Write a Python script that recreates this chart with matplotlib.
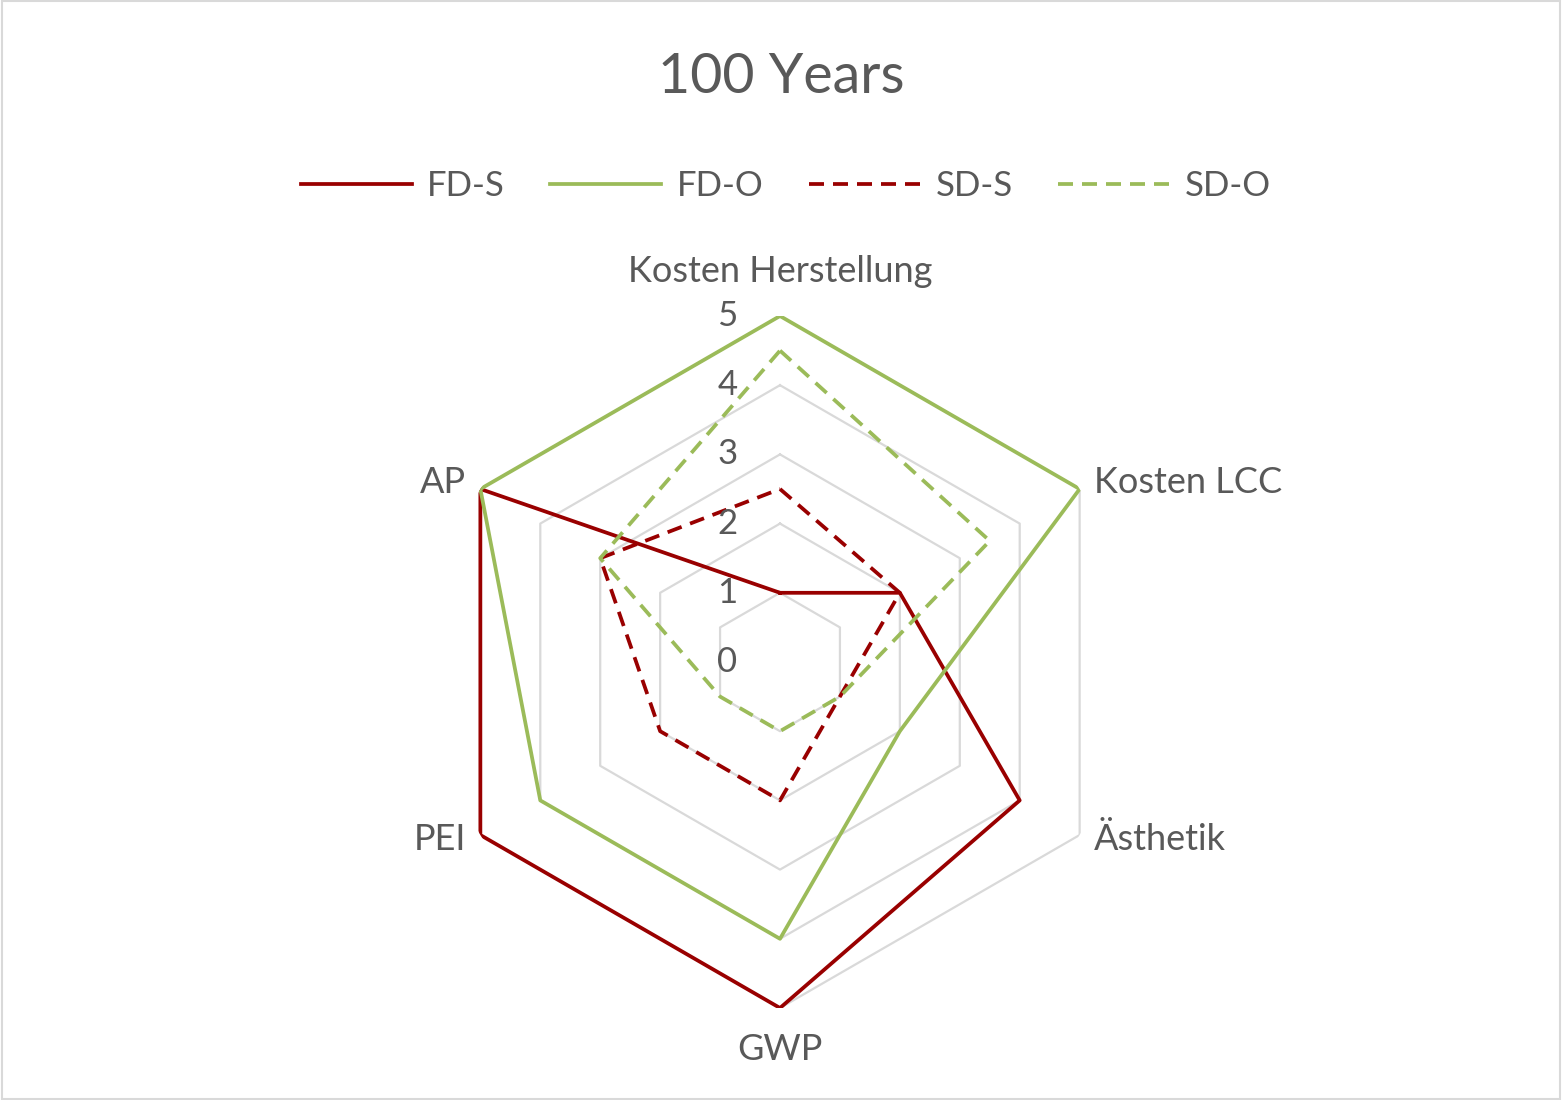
import numpy as np
import matplotlib
matplotlib.use("Agg")
import matplotlib.pyplot as plt

plt.rcParams['font.family'] = ['Lato', 'DejaVu Sans']

# data
categories = ['Kosten Herstellung', 'Kosten LCC', 'Ästhetik', 'GWP', 'PEI', 'AP']
fd_s = [1, 2, 4, 5, 5, 5]
fd_o = [5, 5, 2, 4, 4, 5]
sd_s = [2.5, 2, 1, 2, 2, 3]
sd_o = [4.5, 3.5, 1, 1, 1, 3]
r_ticks = [0, 1, 2, 3, 4, 5]

red = '#990000'
green = '#9BBB59'
grey_txt = '#595959'
grid_c = '#D9D9D9'

fig = plt.figure(figsize=(15.62, 11.0), dpi=100)
# border around chart area
fig.patches.append(plt.Rectangle((0.001, 0.001), 0.998, 0.998, transform=fig.transFigure,
                                 fill=False, edgecolor=grid_c, linewidth=1.5))

cx, cy, rw, rh = 780 / 1562, 1 - 662 / 1100, 346 / 1562, 346 / 1100
ax = fig.add_axes([cx - rw, cy - rh, 2 * rw, 2 * rh], projection='polar')
ax.set_theta_offset(np.pi / 2)
ax.set_theta_direction(-1)
ax.set_ylim(0, 5)
ax.axis('off')

n = len(categories)
theta = np.arange(n) * 2 * np.pi / n
theta_c = np.append(theta, theta[0])

def closed(vals):
    return np.append(vals, vals[0])

# hexagonal grid (no spokes)
for r in r_ticks[1:]:
    ax.plot(theta_c, [r] * (n + 1), color=grid_c, lw=1.6, zorder=1)

dash = (0, (4.0, 2.4))
lw = 2.7
ax.plot(theta_c, closed(fd_s), color=red, lw=lw, label='FD-S', zorder=3)
ax.plot(theta_c, closed(fd_o), color=green, lw=lw, label='FD-O', zorder=3)
ax.plot(theta_c, closed(sd_s), color=red, lw=lw, ls=dash, label='SD-S', zorder=3)
ax.plot(theta_c, closed(sd_o), color=green, lw=lw, ls=dash, label='SD-O', zorder=3)

# radial tick labels, left of the vertical axis
for r in r_ticks:
    ax.annotate(str(r), xy=(0, r), xytext=(-38, 0), textcoords='offset points',
                ha='center', va='center', fontsize=25, color=grey_txt, zorder=4)

# category labels
offsets = [(0, 32, 'center'), (10, 5, 'left'), (10, -3, 'left'),
           (0, -30, 'center'), (-10, -3, 'right'), (-10, 5, 'right')]
for t, lab, (dx, dy, ha) in zip(theta, categories, offsets):
    ax.annotate(lab, xy=(t, 5), xytext=(dx, dy), textcoords='offset points',
                ha=ha, va='center', fontsize=26, color=grey_txt, annotation_clip=False)

fig.text(0.5, 1 - 77 / 1100, '100 Years', ha='center', va='center', fontsize=40, color=grey_txt)

leg = fig.legend(loc='center', bbox_to_anchor=(0.503, 1 - 186 / 1100), ncol=4, frameon=False,
                 fontsize=25, handlelength=3.2, handletextpad=0.45, columnspacing=1.3)
for txt in leg.get_texts():
    txt.set_color(grey_txt)

fig.savefig('out.png', dpi=100)
